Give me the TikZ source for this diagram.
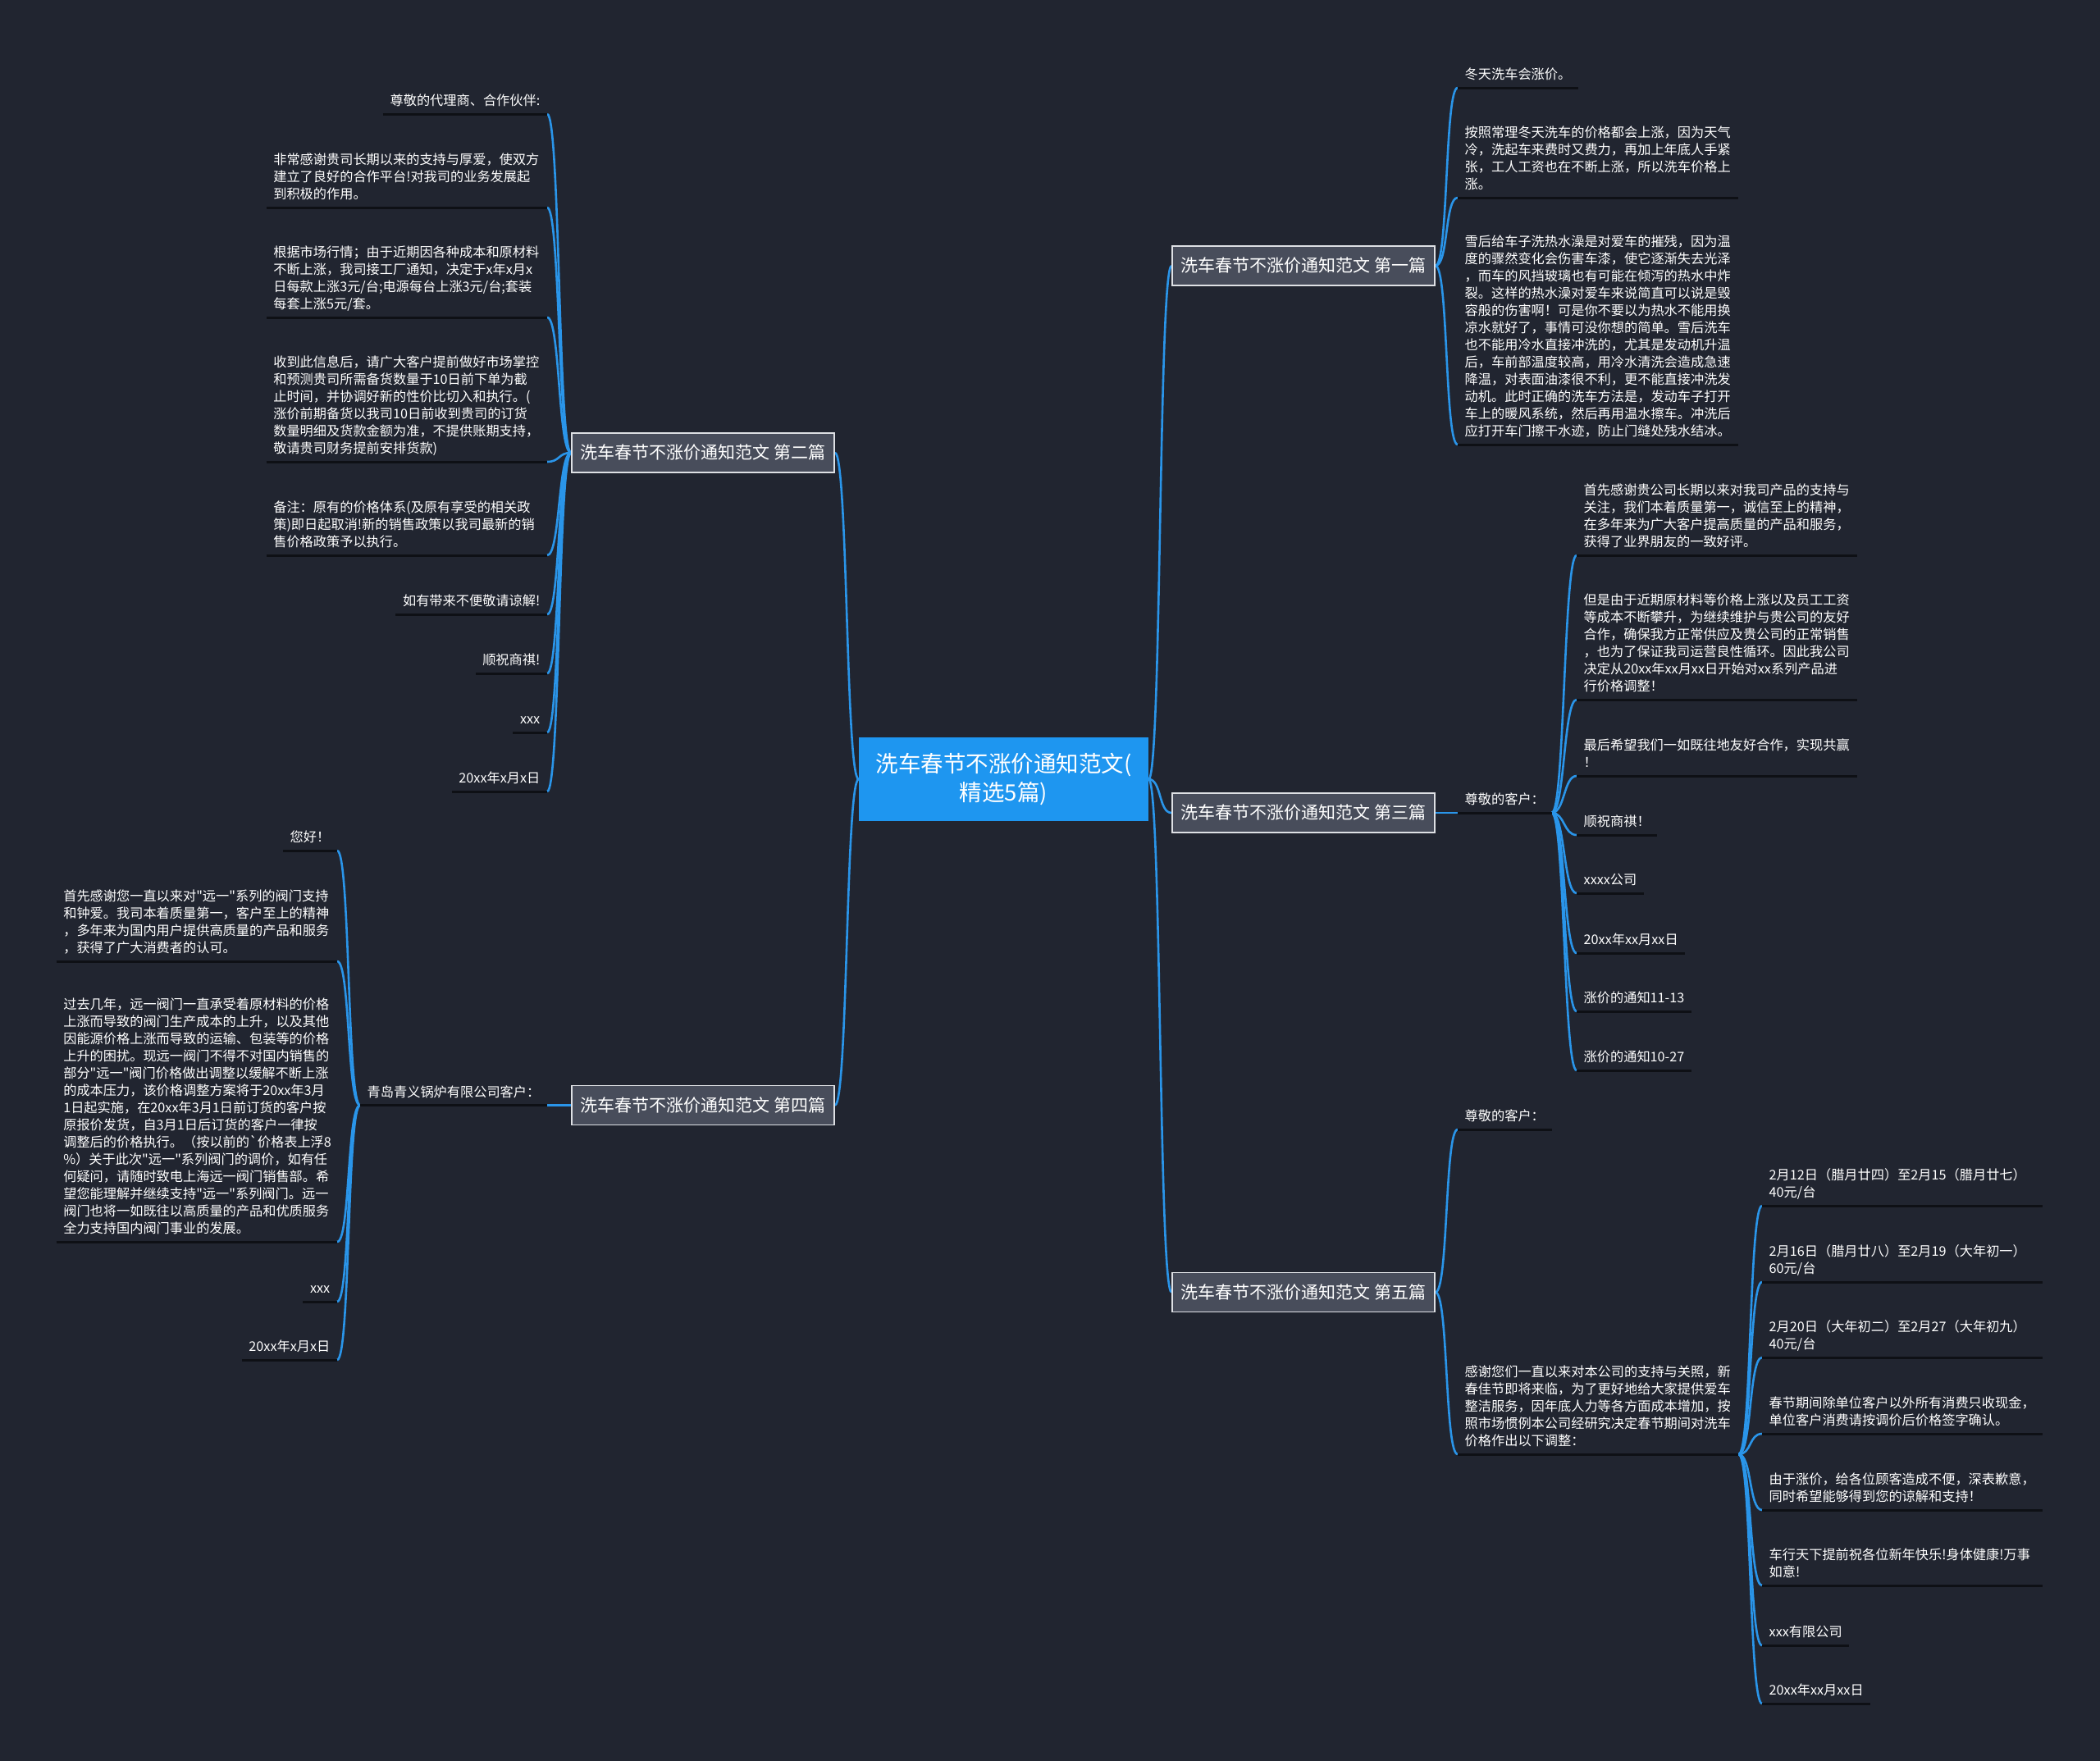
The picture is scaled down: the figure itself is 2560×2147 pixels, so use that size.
\documentclass[tikz,border=0pt]{standalone}
\usepackage{fontspec}
\newfontfamily\cjkf{Noto Sans CJK SC}
\usetikzlibrary{calc}
\definecolor{bgc}{RGB}{33,37,48}
\definecolor{rootc}{RGB}{30,150,240}
\definecolor{brfill}{RGB}{72,77,91}
\definecolor{brdraw}{RGB}{222,224,228}
\definecolor{connc}{RGB}{42,149,233}
\definecolor{ulc}{RGB}{14,16,21}
\pgfdeclarelayer{bglayer}
\pgfdeclarelayer{linelayer}
\pgfsetlayers{bglayer,linelayer,main}
\newcommand\myconnR[2]{\draw[conn] (#1) .. controls ($(#1)+(16,0)$) and ($(#2)+(-16,0)$) .. (#2);}
\newcommand\myconnL[2]{\draw[conn] (#1) .. controls ($(#1)+(-16,0)$) and ($(#2)+(16,0)$) .. (#2);}
\begin{document}
\begin{tikzpicture}[x=1pt,y=-1pt,
 leafbox/.style={inner xsep=8.5pt,inner ysep=3.7pt,text=white,font=\cjkf\fontsize{16.2}{21}\selectfont,align=left,execute at end node={\strut}},
 parabox/.style={leafbox,text width=325pt},
 rnode/.style={anchor=south west},
 lnode/.style={anchor=south east},
 uline/.style={draw=ulc,line width=3pt},
 conn/.style={draw=connc,line width=2.6pt},
 rootbox/.style={fill=rootc,minimum width=353pt,minimum height=102pt,inner sep=0pt,text=white,align=center,font=\cjkf\fontsize{27.5}{35}\selectfont},
 branchbox/.style={fill=brfill,draw=brdraw,line width=1.6pt,minimum width=320pt,minimum height=48pt,inner sep=0pt,text=white,font=\cjkf\fontsize{21}{25}\selectfont},
]
\begin{pgfonlayer}{bglayer}
\fill[bgc] (0,0) rectangle (2560,2147);
\end{pgfonlayer}
\useasboundingbox (0,0) rectangle (2560,2147);

% root and branches
\node[rootbox] (root) at (1223.5,950) {洗车春节不涨价通知范文(\\精选5篇)};
\node[branchbox] (b1) at (1589,324) {洗车春节不涨价通知范文 第一篇};
\node[branchbox] (b2) at (857,552) {洗车春节不涨价通知范文 第二篇};
\node[branchbox] (b3) at (1589,991) {洗车春节不涨价通知范文 第三篇};
\node[branchbox] (b4) at (857,1347.5) {洗车春节不涨价通知范文 第四篇};
\node[branchbox] (b5) at (1589,1575.5) {洗车春节不涨价通知范文 第五篇};

% branch 1
\node[leafbox,rnode] (a1) at (1777,107) {冬天洗车会涨价。};
\node[parabox,rnode] (a2) at (1777,241) {按照常理冬天洗车的价格都会上涨，因为天气\\冷，洗起车来费时又费力，再加上年底人手紧\\张，工人工资也在不断上涨，所以洗车价格上\\涨。};
\node[parabox,rnode] (a3) at (1777,542) {雪后给车子洗热水澡是对爱车的摧残，因为温\\度的骤然变化会伤害车漆，使它逐渐失去光泽\\，而车的风挡玻璃也有可能在倾泻的热水中炸\\裂。这样的热水澡对爱车来说简直可以说是毁\\容般的伤害啊！可是你不要以为热水不能用换\\凉水就好了，事情可没你想的简单。雪后洗车\\也不能用冷水直接冲洗的，尤其是发动机升温\\后，车前部温度较高，用冷水清洗会造成急速\\降温，对表面油漆很不利，更不能直接冲洗发\\动机。此时正确的洗车方法是，发动车子打开\\车上的暖风系统，然后再用温水擦车。冲洗后\\应打开车门擦干水迹，防止门缝处残水结冰。};

% branch 2
\node[leafbox,lnode] (c1) at (667,139) {尊敬的代理商、合作伙伴:};
\node[parabox,lnode] (c2) at (667,253) {非常感谢贵司长期以来的支持与厚爱，使双方\\建立了良好的合作平台!对我司的业务发展起\\到积极的作用。};
\node[parabox,lnode] (c3) at (667,387) {根据市场行情；由于近期因各种成本和原材料\\不断上涨，我司接工厂通知，决定于x年x月x\\日每款上涨3元/台;电源每台上涨3元/台;套装\\每套上涨5元/套。};
\node[parabox,lnode] (c4) at (667,563) {收到此信息后，请广大客户提前做好市场掌控\\和预测贵司所需备货数量于10日前下单为截\\止时间，并协调好新的性价比切入和执行。(\\涨价前期备货以我司10日前收到贵司的订货\\数量明细及货款金额为准，不提供账期支持，\\敬请贵司财务提前安排货款)};
\node[parabox,lnode] (c5) at (667,677) {备注：原有的价格体系(及原有享受的相关政\\策)即日起取消!新的销售政策以我司最新的销\\售价格政策予以执行。};
\node[leafbox,lnode] (c6) at (667,749) {如有带来不便敬请谅解!};
\node[leafbox,lnode] (c7) at (667,821) {顺祝商祺!};
\node[leafbox,lnode] (c8) at (667,893) {xxx};
\node[leafbox,lnode] (c9) at (667,965) {20xx年x月x日};

% branch 3
\node[leafbox,rnode] (d0) at (1777,991) {尊敬的客户：};
\node[parabox,rnode] (d1) at (1922,677) {首先感谢贵公司长期以来对我司产品的支持与\\关注，我们本着质量第一，诚信至上的精神，\\在多年来为广大客户提高质量的产品和服务，\\获得了业界朋友的一致好评。};
\node[parabox,rnode] (d2) at (1922,853) {但是由于近期原材料等价格上涨以及员工工资\\等成本不断攀升，为继续维护与贵公司的友好\\合作，确保我方正常供应及贵公司的正常销售\\，也为了保证我司运营良性循环。因此我公司\\决定从20xx年xx月xx日开始对xx系列产品进\\行价格调整！};
\node[parabox,rnode] (d3) at (1922,946) {最后希望我们一如既往地友好合作，实现共赢\\！};
\node[leafbox,rnode] (d4) at (1922,1018) {顺祝商祺！};
\node[leafbox,rnode] (d5) at (1922,1089) {xxxx公司};
\node[leafbox,rnode] (d6) at (1922,1162) {20xx年xx月xx日};
\node[leafbox,rnode] (d7) at (1922,1233) {涨价的通知11-13};
\node[leafbox,rnode] (d8) at (1922,1305) {涨价的通知10-27};

% branch 4
\node[leafbox,lnode] (e0) at (667,1347.5) {青岛青义锅炉有限公司客户：};
\node[leafbox,lnode] (e1) at (411,1037) {您好！};
\node[parabox,lnode] (e2) at (411,1172) {首先感谢您一直以来对"远一"系列的阀门支持\\和钟爱。我司本着质量第一，客户至上的精神\\，多年来为国内用户提供高质量的产品和服务\\，获得了广大消费者的认可。};
\node[parabox,lnode] (e3) at (411,1514) {过去几年，远一阀门一直承受着原材料的价格\\上涨而导致的阀门生产成本的上升，以及其他\\因能源价格上涨而导致的运输、包装等的价格\\上升的困扰。现远一阀门不得不对国内销售的\\部分"远一"阀门价格做出调整以缓解不断上涨\\的成本压力，该价格调整方案将于20xx年3月\\1日起实施，在20xx年3月1日前订货的客户按\\原报价发货，自3月1日后订货的客户一律按\\调整后的价格执行。（按以前的`价格表上浮8\\\%）关于此次"远一"系列阀门的调价，如有任\\何疑问，请随时致电上海远一阀门销售部。希\\望您能理解并继续支持"远一"系列阀门。远一\\阀门也将一如既往以高质量的产品和优质服务\\全力支持国内阀门事业的发展。};
\node[leafbox,lnode] (e4) at (411,1587) {xxx};
\node[leafbox,lnode] (e5) at (411,1658) {20xx年x月x日};

% branch 5
\node[leafbox,rnode] (f0) at (1777,1377) {尊敬的客户：};
\node[parabox,rnode] (f1) at (1777,1773) {感谢您们一直以来对本公司的支持与关照，新\\春佳节即将来临，为了更好地给大家提供爱车\\整洁服务，因年底人力等各方面成本增加，按\\照市场惯例本公司经研究决定春节期间对洗车\\价格作出以下调整：};
\node[parabox,rnode] (g1) at (2148,1470) {2月12日（腊月廿四）至2月15（腊月廿七）\\40元/台};
\node[parabox,rnode] (g2) at (2148,1563) {2月16日（腊月廿八）至2月19（大年初一）\\60元/台};
\node[parabox,rnode] (g3) at (2148,1655) {2月20日（大年初二）至2月27（大年初九）\\40元/台};
\node[parabox,rnode] (g4) at (2148,1748) {春节期间除单位客户以外所有消费只收现金，\\单位客户消费请按调价后价格签字确认。};
\node[parabox,rnode] (g5) at (2148,1841) {由于涨价，给各位顾客造成不便，深表歉意，\\同时希望能够得到您的谅解和支持！};
\node[parabox,rnode] (g6) at (2148,1933) {车行天下提前祝各位新年快乐!身体健康!万事\\如意!};
\node[leafbox,rnode] (g7) at (2148,2006) {xxx有限公司};
\node[leafbox,rnode] (g8) at (2148,2077) {20xx年xx月xx日};

% underlines
\foreach \n in {a1,a2,a3,c1,c2,c3,c4,c5,c6,c7,c8,c9,d0,d1,d2,d3,d4,d5,d6,d7,d8,e0,e1,e2,e3,e4,e5,f0,f1,g1,g2,g3,g4,g5,g6,g7,g8}
  {\draw[uline] (\n.south west) -- (\n.south east);}

% connectors
\begin{pgfonlayer}{linelayer}
\foreach \b in {b1,b3,b5} {\myconnR{root.east}{\b.west}}
\foreach \b in {b2,b4} {\myconnL{root.west}{\b.east}}
\foreach \n in {a1,a2,a3} {\myconnR{b1.east}{\n.south west}}
\foreach \n in {c1,c2,c3,c4,c5,c6,c7,c8,c9} {\myconnL{b2.west}{\n.south east}}
\draw[conn] (b3.east) -- (d0.south west);
\foreach \n in {d1,d2,d3,d4,d5,d6,d7,d8} {\myconnR{d0.south east}{\n.south west}}
\draw[conn] (b4.west) -- (e0.south east);
\foreach \n in {e1,e2,e3,e4,e5} {\myconnL{e0.south west}{\n.south east}}
\foreach \n in {f0,f1} {\myconnR{b5.east}{\n.south west}}
\foreach \n in {g1,g2,g3,g4,g5,g6,g7,g8} {\myconnR{f1.south east}{\n.south west}}
\end{pgfonlayer}
\end{tikzpicture}
\end{document}
